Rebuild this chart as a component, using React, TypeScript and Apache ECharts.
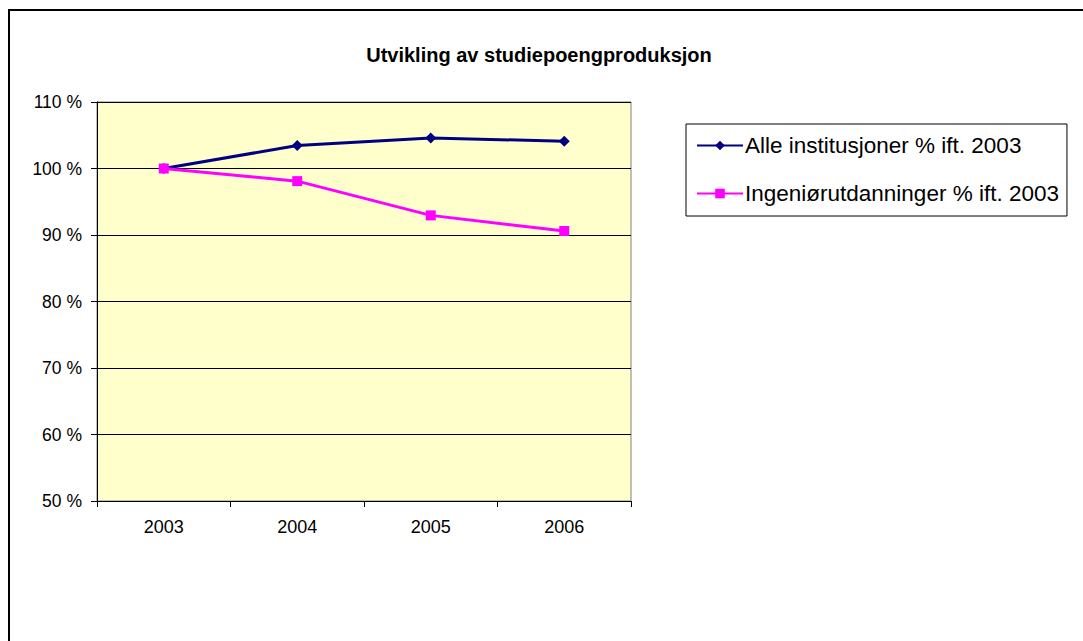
import React, { useEffect, useRef } from "react";
import * as echarts from "echarts";

const years = ["2003", "2004", "2005", "2006"];
const alleInstitusjoner = [100, 103.45, 104.6, 104.1];
const ingeniorutdanninger = [100, 98.1, 92.95, 90.6];
const seriesNames = ["Alle institusjoner % ift. 2003", "Ingeniørutdanninger % ift. 2003"];
const titleText = "Utvikling av studiepoengproduksjon";

export default function App() {
  const ref = useRef<HTMLDivElement>(null);
  useEffect(() => {
    if (!ref.current) return;
    const chart = echarts.init(ref.current, undefined, { renderer: "svg" });
    const font = "Liberation Sans, Arial, sans-serif";
    chart.setOption({
      animation: false,
      backgroundColor: "#ffffff",
      textStyle: { fontFamily: font },
      title: {
        text: titleText,
        left: 534,
        textAlign: "center",
        top: 40,
        textStyle: { fontSize: 20, fontWeight: "bold", color: "#000", fontFamily: font },
      },
      graphic: [
        {
          type: "rect",
          shape: { x: 9, y: 10, width: 1100, height: 700 },
          style: { fill: "none", stroke: "#000", lineWidth: 2 },
          silent: true,
        },
      ],
      legend: {
        orient: "vertical",
        left: 686,
        top: 124,
        width: 384,
        padding: [10, 8, 11, 10],
        itemGap: 25,
        itemWidth: 46,
        itemHeight: 12,
        borderColor: "#000",
        borderWidth: 1,
        data: seriesNames,
        textStyle: { fontSize: 22.5, color: "#000", fontFamily: font, padding: [0, 0, 0, -3] },
      },
      grid: {
        left: 97,
        top: 102,
        width: 534,
        height: 399,
        show: true,
        backgroundColor: "#FFFFCC",
        borderColor: "#808080",
        borderWidth: 1,
      },
      xAxis: {
        type: "category",
        data: years,
        boundaryGap: true,
        axisLine: { show: true, lineStyle: { color: "#000", width: 1 } },
        axisTick: { show: true, length: 6, inside: false, lineStyle: { color: "#000" } },
        axisLabel: { fontSize: 18, color: "#000", margin: 17, fontFamily: font },
        splitLine: { show: false },
      },
      yAxis: {
        type: "value",
        min: 50,
        max: 110,
        interval: 10,
        axisLine: { show: true, lineStyle: { color: "#000", width: 1 } },
        axisTick: { show: true, length: 6, lineStyle: { color: "#000" } },
        axisLabel: {
          fontSize: 17.5,
          color: "#000",
          margin: 15,
          fontFamily: font,
          formatter: (v: number) => `${v} %`,
        },
        splitLine: { show: true, lineStyle: { color: "#000", width: 1 } },
      },
      series: [
        {
          name: seriesNames[0],
          type: "line",
          data: alleInstitusjoner,
          symbol: "diamond",
          symbolSize: 11,
          color: "#000080",
          lineStyle: { color: "#000080", width: 3 },
          itemStyle: { color: "#000080" },
          z: 3,
        },
        {
          name: seriesNames[1],
          type: "line",
          data: ingeniorutdanninger,
          symbol: "rect",
          symbolSize: 10,
          color: "#FF00FF",
          lineStyle: { color: "#FF00FF", width: 3 },
          itemStyle: { color: "#FF00FF" },
          z: 4,
        },
      ],
    });
    return () => chart.dispose();
  }, []);
  return (
    <div
      ref={ref}
      style={{ position: "fixed", left: 0, top: 0, width: 1083, height: 641 }}
    />
  );
}
